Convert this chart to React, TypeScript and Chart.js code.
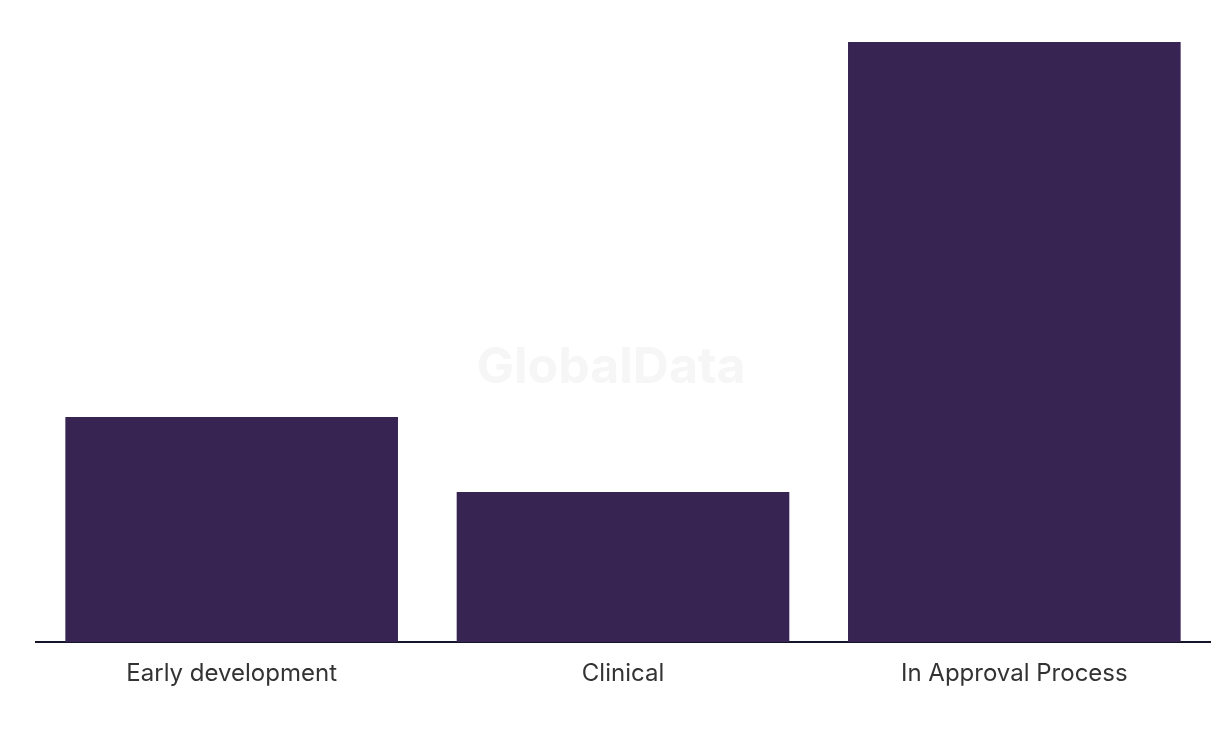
import React, { useEffect, useRef } from "react";
import { Chart, registerables } from "chart.js";

Chart.register(...registerables);

const categories = ["Early development", "Clinical", "In Approval Process"];
const values = [3, 2, 8];
const yMax = 8;

const watermark = {
  id: "watermark",
  beforeDatasetsDraw(chart: any) {
    const { ctx } = chart;
    ctx.save();
    ctx.font = "bold 50px Inter, 'Noto Sans', sans-serif";
    ctx.fillStyle = "#f6f6f6";
    ctx.textAlign = "center";
    ctx.textBaseline = "middle";
    ctx.fillText("GlobalData", 611, 368);
    ctx.restore();
  },
};

export default function App() {
  const ref = useRef<HTMLCanvasElement>(null);
  useEffect(() => {
    if (!ref.current) return;
    const chart = new Chart(ref.current, {
      type: "bar",
      data: {
        labels: categories,
        datasets: [
          {
            data: values,
            backgroundColor: "#372453",
            borderWidth: 0,
            barPercentage: 0.85,
            categoryPercentage: 1,
          },
        ],
      },
      options: {
        responsive: false,
        animation: false,
        layout: { padding: { left: 36, right: 10, top: 42, bottom: 0 } },
        plugins: { legend: { display: false }, tooltip: { enabled: false } },
        scales: {
          x: {
            grid: { display: false },
            border: { display: true, color: "#14142b", width: 2 },
            ticks: {
              color: "#333333",
              font: { family: "Inter, 'Noto Sans', sans-serif", size: 24 },
              padding: 9,
              maxRotation: 0,
            },
            afterFit(scale: any) {
              scale.height = 94;
            },
          },
          y: { display: false, min: 0, max: yMax },
        },
      },
      plugins: [watermark],
    });
    return () => chart.destroy();
  }, []);
  return (
    <div style={{ position: "absolute", left: 0, top: 0, width: 1220, height: 736, background: "#fff" }}>
      <canvas ref={ref} width={1220} height={736} style={{ display: "block" }} />
    </div>
  );
}
